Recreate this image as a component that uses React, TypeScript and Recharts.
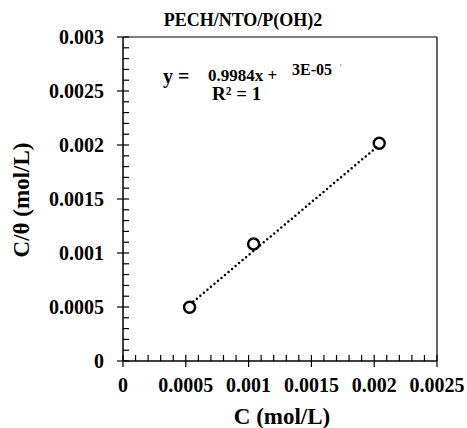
import { ScatterChart, Scatter, XAxis, YAxis, ReferenceLine } from "recharts";

// measured points
const cValues = [0.00053, 0.00104, 0.00204];
const cThetaValues = [0.000497, 0.001083, 0.002016];

// dotted trendline ends, as drawn
const trendX = [0.00056, 0.00202];
const trendY = [0.00055, 0.00198];

const xMajor = [0, 0.0005, 0.001, 0.0015, 0.002, 0.0025];
const xLabels = ["0", "0.0005", "0.001", "0.0015", "0.002", "0.0025"];
const yMajor = [0, 0.0005, 0.001, 0.0015, 0.002, 0.0025, 0.003];
const yLabels = ["0", "0.0005", "0.001", "0.0015", "0.002", "0.0025", "0.003"];

const points = cValues.map((c, i) => ({ c, ct: cThetaValues[i] }));
const trend = trendX.map((c, i) => ({ c, ct: trendY[i] }));

// minor ticks every 0.0001
const minorTicks = (max: number) => {
  const out: number[] = [];
  for (let i = 0; i <= Math.round(max / 0.0001); i++) out.push(+(i * 0.0001).toFixed(4));
  return out;
};

const FONT = "'Liberation Serif', 'Times New Roman', serif";

const labelFor = (v: number, major: number[], labels: string[]) => {
  const idx = major.findIndex((m) => Math.abs(m - v) < 1e-9);
  return idx >= 0 ? labels[idx] : null;
};

const XTick = (props: any) => {
  const { x, y, payload } = props;
  const lab = labelFor(payload.value, xMajor, xLabels);
  if (lab === null) {
    return <line x1={x} x2={x} y1={y} y2={y - 6} stroke="#000" strokeWidth={1.2} />;
  }
  return (
    <g>
      <line x1={x} x2={x} y1={y - 6} y2={y + 6} stroke="#000" strokeWidth={1.2} />
      <text x={x} y={y + 31} textAnchor="middle" fontFamily={FONT} fontWeight="bold" fontSize={20} fill="#000">
        {lab}
      </text>
    </g>
  );
};

const YTick = (props: any) => {
  const { x, y, payload } = props;
  const lab = labelFor(payload.value, yMajor, yLabels);
  if (lab === null) {
    return <line x1={x} x2={x + 6} y1={y} y2={y} stroke="#000" strokeWidth={1.2} />;
  }
  return (
    <g>
      <line x1={x - 6} x2={x + 6} y1={y} y2={y} stroke="#000" strokeWidth={1.2} />
      <text x={x - 19} y={y + 7} textAnchor="end" fontFamily={FONT} fontWeight="bold" fontSize={20} fill="#000">
        {lab}
      </text>
    </g>
  );
};

const OpenCircle = (props: any) => {
  const { cx, cy } = props;
  return <circle cx={cx} cy={cy} r={5.5} fill="none" stroke="#000" strokeWidth={2.4} />;
};

export default function App() {
  return (
    <div style={{ position: "absolute", left: 0, top: 0, width: 467, height: 428, background: "#fff" }}>
      <ScatterChart width={467} height={428} margin={{ top: 37, right: 30, left: 0, bottom: 0 }}>
        <XAxis
          type="number"
          dataKey="c"
          domain={[0, 0.0025]}
          ticks={minorTicks(0.0025)}
          interval={0}
          tick={<XTick />}
          tickLine={false}
          tickSize={0}
          tickMargin={0}
          height={67}
          axisLine={{ stroke: "#000", strokeWidth: 1.5 }}
          allowDataOverflow
        />
        <YAxis
          type="number"
          dataKey="ct"
          domain={[0, 0.003]}
          ticks={minorTicks(0.003)}
          interval={0}
          tick={<YTick />}
          tickLine={false}
          tickSize={0}
          tickMargin={0}
          width={123}
          axisLine={{ stroke: "#000", strokeWidth: 1.5 }}
          allowDataOverflow
        />
        <ReferenceLine y={0.003} stroke="#000" strokeWidth={1.2} ifOverflow="visible" />
        <ReferenceLine x={0.0025} stroke="#000" strokeWidth={1.2} ifOverflow="visible" />
        <Scatter
          data={trend}
          line={{ stroke: "#000", strokeWidth: 2.5, strokeDasharray: "0 4.6", strokeLinecap: "round" }}
          shape={() => <g />}
          isAnimationActive={false}
        />
        <Scatter data={points} shape={<OpenCircle />} isAnimationActive={false} />
      </ScatterChart>
      <svg width={467} height={428} style={{ position: "absolute", left: 0, top: 0, pointerEvents: "none" }}>
        <g fontFamily={FONT} fontWeight="bold" fill="#000">
          <text x={243} y={26} textAnchor="middle" fontSize={18}>PECH/NTO/P(OH)2</text>
          <text x={163} y={83} fontSize={20}>y</text>
          <text x={178} y={83} fontSize={20}>=</text>
          <text x={208} y={81} fontSize={17}>0.9984x +</text>
          <text x={292} y={75} fontSize={16}>3E-05</text>
          <text x={339} y={69} fontSize={10} fill="#999">·</text>
          <text x={212} y={100} fontSize={19}>R² = 1</text>
          <text x={282} y={424} textAnchor="middle" fontSize={23}>C (mol/L)</text>
          <text x={29} y={200} textAnchor="middle" fontSize={23} transform="rotate(-90 29 200)">C/θ (mol/L)</text>
        </g>
      </svg>
    </div>
  );
}
